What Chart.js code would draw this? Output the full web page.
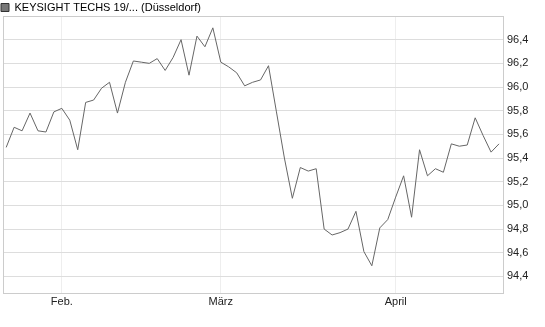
<!DOCTYPE html>
<html><head><meta charset="utf-8">
<script src="https://cdn.jsdelivr.net/npm/chart.js@4/dist/chart.umd.min.js"></script>
<style>html,body{margin:0;padding:0;background:#fff}#wrap{width:545px;height:327px}</style>
</head><body><div id="wrap"><canvas id="c" width="545" height="327"></canvas></div>
<script>
const seriesName = 'KEYSIGHT TECHS 19/... (Düsseldorf)';
const prices = [95.49,95.66,95.63,95.78,95.63,95.62,95.79,95.82,95.72,95.47,
  95.87,95.89,95.99,96.04,95.78,96.04,96.22,96.21,96.20,96.24,
  96.14,96.25,96.40,96.10,96.43,96.34,96.50,96.21,96.17,96.12,
  96.01,96.04,96.06,96.18,95.79,95.40,95.06,95.32,95.29,95.31,
  94.80,94.75,94.77,94.80,94.95,94.61,94.49,94.81,94.88,95.07,
  95.25,94.90,95.47,95.25,95.31,95.28,95.52,95.50,95.51,95.74,
  95.59,95.45,95.52];
const monthTickIndex = [7, 27, 49];
const monthTickLabels = ['Feb.', 'März', 'April'];
const yTicks = [94.4,94.6,94.8,95.0,95.2,95.4,95.6,95.8,96.0,96.2,96.4];

const points = prices.map((v, i) => ({x: i, y: v}));

const boxPlugin = {
  id: 'box',
  afterInit(chart) {
    const lg = chart.legend;
    if (lg) {
      const orig = lg.fit.bind(lg);
      lg.fit = function () { orig(); this.height = 16; };
    }
  },
  afterLayout(chart) {
    if (chart.legend) { chart.legend.left = -1; }
  },
  afterDraw(chart) {
    const a = chart.chartArea, ctx = chart.ctx;
    ctx.save();
    ctx.strokeStyle = '#cccccc';
    ctx.lineWidth = 1;
    ctx.strokeRect(Math.round(a.left) + 0.5, Math.round(a.top) + 0.5,
      Math.round(a.right - a.left), Math.round(a.bottom - a.top));
    ctx.restore();
  }
};

new Chart(document.getElementById('c'), {
  type: 'line',
  data: { datasets: [{
    label: seriesName,
    data: points,
    borderColor: '#666666',
    backgroundColor: '#777777',
    borderWidth: 1,
    pointRadius: 0,
    tension: 0,
    fill: false
  }]},
  options: {
    responsive: false,
    animation: false,
    devicePixelRatio: 1,
    layout: { padding: { left: 3, top: 0, right: 0, bottom: 0 } },
    plugins: {
      legend: {
        display: true,
        position: 'top',
        align: 'start',
        labels: {
          boxWidth: 8, boxHeight: 8, padding: 2,
          color: '#222',
          font: { family: 'Liberation Sans, Arial, sans-serif', size: 11, lineHeight: 1.2 },
          generateLabels: (chart) => [{
            text: seriesName, fillStyle: '#777777', strokeStyle: '#333333',
            lineWidth: 1, hidden: false, datasetIndex: 0
          }]
        }
      },
      tooltip: { enabled: false }
    },
    scales: {
      x: {
        type: 'linear',
        min: -0.4, max: 62.5,
        afterBuildTicks: (s) => { s.ticks = monthTickIndex.map(v => ({value: v})); },
        afterFit: (s) => { s.height = 34; },
        ticks: {
          autoSkip: false, maxRotation: 0, padding: 2,
          color: '#222',
          font: { family: 'Liberation Sans, Arial, sans-serif', size: 11 },
          callback: (v) => monthTickLabels[monthTickIndex.indexOf(v)]
        },
        grid: { color: '#eeeeee', drawTicks: false },
        border: { display: false }
      },
      y: {
        position: 'right',
        min: 94.26, max: 96.6,
        afterBuildTicks: (s) => { s.ticks = yTicks.map(v => ({value: v})); },
        afterFit: (s) => { s.width = 42; },
        ticks: {
          padding: 4,
          color: '#222',
          font: { family: 'Liberation Sans, Arial, sans-serif', size: 11 },
          callback: (v) => v.toFixed(1).replace('.', ',')
        },
        grid: { color: '#dddddd', drawTicks: false },
        border: { display: false }
      }
    }
  },
  plugins: [boxPlugin]
});
</script></body></html>
